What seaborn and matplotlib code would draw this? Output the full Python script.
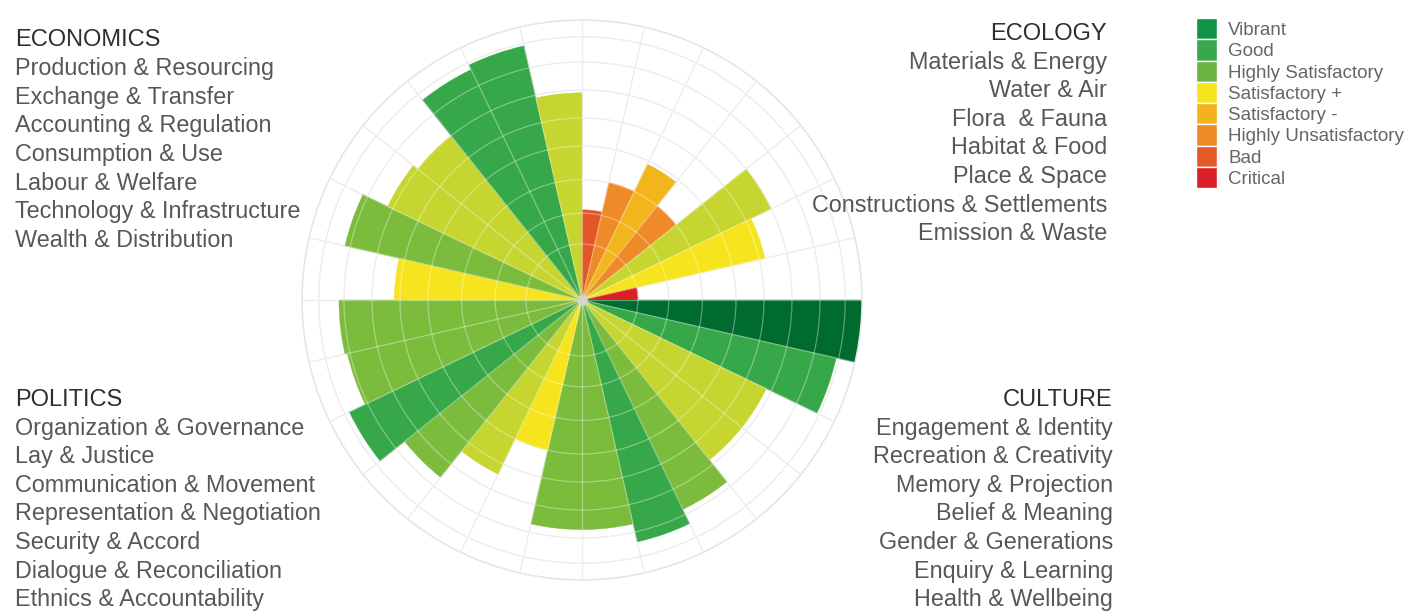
import numpy as np
import pandas as pd
import matplotlib
matplotlib.use("Agg")
import matplotlib.pyplot as plt
import seaborn as sns

# --- data -------------------------------------------------------------
ecology = ["Materials & Energy", "Water & Air", "Flora  & Fauna", "Habitat & Food",
           "Place & Space", "Constructions & Settlements", "Emission & Waste"]
culture = ["Engagement & Identity", "Recreation & Creativity", "Memory & Projection",
           "Belief & Meaning", "Gender & Generations", "Enquiry & Learning", "Health & Wellbeing"]
politics = ["Organization & Governance", "Lay & Justice", "Communication & Movement",
            "Representation & Negotiation", "Security & Accord", "Dialogue & Reconciliation",
            "Ethnics & Accountability"]
economics = ["Production & Resourcing", "Exchange & Transfer", "Accounting & Regulation",
             "Consumption & Use", "Labour & Welfare", "Technology & Infrastructure",
             "Wealth & Distribution"]

# scores on the 9-ring scale, listed clockwise from the start of each domain
ecology_scores = [2.1, 3.0, 3.9, 3.0, 6.0, 5.2, 1.0]
culture_scores = [9.0, 7.9, 5.8, 5.8, 6.8, 7.4, 6.7]
politics_scores = [6.7, 4.0, 5.4, 6.6, 7.8, 7.1, 7.2]
economics_scores = [5.2, 7.2, 6.2, 6.0, 7.7, 7.9, 5.9]

ecology_rating = ["Bad", "Highly Unsatisfactory", "Satisfactory -", "Highly Unsatisfactory",
                  "Satisfactory", "Satisfactory +", "Critical"]
culture_rating = ["Vibrant", "Good", "Satisfactory", "Satisfactory", "Highly Satisfactory",
                  "Good", "Highly Satisfactory"]
politics_rating = ["Highly Satisfactory", "Satisfactory +", "Satisfactory", "Highly Satisfactory",
                   "Good", "Highly Satisfactory", "Highly Satisfactory"]
economics_rating = ["Satisfactory +", "Highly Satisfactory", "Satisfactory", "Satisfactory",
                    "Good", "Good", "Satisfactory"]

legend_labels = ["Vibrant", "Good", "Highly Satisfactory", "Satisfactory +", "Satisfactory -",
                 "Highly Unsatisfactory", "Bad", "Critical"]

# --- styling ----------------------------------------------------------
bar_colors = {
    "Vibrant": "#006b2f", "Good": "#37a84a", "Highly Satisfactory": "#7cbc3d",
    "Satisfactory": "#c6d52f", "Satisfactory +": "#f6e51e", "Satisfactory -": "#f3b51c",
    "Highly Unsatisfactory": "#ee8a27", "Bad": "#e4552a", "Critical": "#db1f26",
}
legend_colors = ["#0e9547", "#38a94a", "#6bb444", "#f4e41b", "#f4b31b", "#ee8a26", "#e45a27", "#da1f26"]
ring_r = [0, 0.20, 0.31, 0.43, 0.55, 0.65, 0.75, 0.85, 0.94, 1.0]

W, H, DPI = 1418, 611, 100

sns.set_theme(style="white")
plt.rcParams["font.family"] = ["Liberation Sans", "DejaVu Sans"]

blocks = [
    ("ECOLOGY", ecology, ecology_scores, ecology_rating, 90),
    ("CULTURE", culture, culture_scores, culture_rating, 0),
    ("POLITICS", politics, politics_scores, politics_rating, 270),
    ("ECONOMICS", economics, economics_scores, economics_rating, 180),
]
step = 360 / 28
rows = []
for name, subs, scores, ratings, start in blocks:
    for i, (s, sc, rt) in enumerate(zip(subs, scores, ratings)):
        rows.append({"domain": name, "sub": s, "score": sc, "rating": rt,
                     "theta": np.deg2rad(start - (i + 0.5) * step)})
df = pd.DataFrame(rows)
df["r"] = np.interp(df["score"], np.arange(10), ring_r)

fig = plt.figure(figsize=(W / DPI, H / DPI), dpi=DPI)
R = 280
cx, cy = 582, 300
ax = fig.add_axes([(cx - R) / W, (H - cy - R) / H, 2 * R / W, 2 * R / H], projection="polar")

cols = [bar_colors[r] for r in df["rating"]]
ax.bar(df["theta"], df["r"], width=np.deg2rad(step), bottom=0, color=cols,
       edgecolor=cols, linewidth=0.3, zorder=2)

bounds = np.deg2rad(np.arange(0, 360, step))
ax.set_xticks(bounds)
ax.set_yticks(ring_r[1:])
ax.set_xticklabels([])
ax.set_yticklabels([])
ax.grid(color="#e4e4e4", linewidth=0.9)
ax.set_axisbelow(True)
ax.set_ylim(0, 1.0)
ax.spines["polar"].set_color("#e4e4e4")
ax.spines["polar"].set_linewidth(1.0)

# light lines over the bars
tt = np.linspace(0, 2 * np.pi, 500)
for r in ring_r[1:-1]:
    ax.plot(tt, np.full_like(tt, r), color="white", alpha=0.35, lw=0.9, zorder=3)
for t in bounds:
    ax.plot([t, t], [0, 1], color="white", alpha=0.35, lw=0.9, zorder=3)
ax.scatter([0], [0], s=45, color="#d5d5d5", zorder=4)

# --- domain text blocks ----------------------------------------------
def block(x, y0, header, items, ha):
    fig.text(x / W, 1 - y0 / H, header, ha=ha, va="baseline", fontsize=17, color="#2e2e2e")
    for k, s in enumerate(items):
        fig.text(x / W, 1 - (y0 + 28.6 * (k + 1)) / H, s, ha=ha, va="baseline",
                 fontsize=16.8, color="#575757")

block(15, 46.5, "ECONOMICS", economics, "left")
block(1107, 40, "ECOLOGY", ecology, "right")
block(15, 406, "POLITICS", politics, "left")
block(1113, 406, "CULTURE", culture, "right")

# --- legend -----------------------------------------------------------
lax = fig.add_axes([1196 / W, 1 - 188 / H, 21 / W, 170 / H])
sns.barplot(x=[1] * len(legend_labels), y=legend_labels, hue=legend_labels,
            palette=legend_colors, width=1.0, orient="h", legend=False,
            saturation=1, ax=lax)
lax.set_xlim(0, 1)
lax.set_ylim(len(legend_labels) - 0.5, -0.5)
lax.set_xlabel("")
lax.set_ylabel("")
lax.set_xticks([])
lax.yaxis.tick_right()
lax.tick_params(axis="y", length=0, pad=8, labelsize=13.5, labelcolor="#666666")
for sp in lax.spines.values():
    sp.set_visible(False)

fig.savefig("out.png", dpi=DPI, facecolor="white")
